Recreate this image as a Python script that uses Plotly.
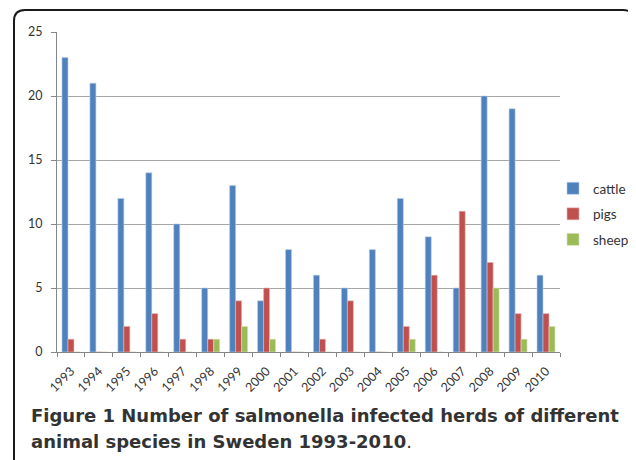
import plotly.graph_objects as go

years = [str(y) for y in range(1993, 2011)]
cattle = [23, 21, 12, 14, 10, 5, 13, 4, 8, 6, 5, 8, 12, 9, 5, 20, 19, 6]
pigs = [1, 0, 2, 3, 1, 1, 4, 5, 0, 1, 4, 0, 2, 6, 11, 7, 3, 3]
sheep = [0, 0, 0, 0, 0, 1, 2, 1, 0, 0, 0, 0, 1, 0, 0, 5, 1, 2]
series_names = ["cattle", "pigs", "sheep"]
colors = ["#4F81BD", "#C0504D", "#9BBB59"]
edge_colors = ["#B9CDE5", "#E6B9B8", "#D7E4BD"]
caption_1 = "<b>Figure 1 Number of salmonella infected herds of different</b>"
caption_2 = "<b>animal species in Sweden 1993-2010</b>."

# page body has an 8px margin; size the figure to fill the 636x460 window
OFF = 8
W, H = 636 - OFF, 460 - OFF
L, R, T, B = 57 - OFF, 76, 32 - OFF, 108
PW, PH = W - L - R, H - T - B


def px(x):  # window pixel -> paper
    return (x - OFF - L) / PW


def py(y):  # window pixel -> paper
    return (H - B - (y - OFF)) / PH


fig = go.Figure()
for i, (name, vals) in enumerate(zip(series_names, [cattle, pigs, sheep])):
    fig.add_trace(go.Bar(
        x=years, y=vals, name=name, legendgroup=name,
        marker=dict(color=colors[i], line=dict(color=edge_colors[i], width=0.6)),
    ))

font = "Lato, 'Open Sans', sans-serif"
fig.update_layout(
    width=W, height=H,
    margin=dict(l=L, r=R, t=T, b=B, autoexpand=False),
    paper_bgcolor="white", plot_bgcolor="white",
    barmode="group", bargap=0.356, bargroupgap=0,
    font=dict(family=font, size=12, color="#333333"),
    showlegend=True,
    legend=dict(
        x=px(553), y=py(214), xanchor="left", yanchor="middle",
        font=dict(size=13.5, color="#333333"), tracegroupgap=5,
        itemwidth=30, bgcolor="rgba(0,0,0,0)",
    ),
    xaxis=dict(
        type="category", tickangle=-45, tickson="boundaries",
        ticks="outside", ticklen=4, tickcolor="#868686",
        showline=True, linecolor="#868686", linewidth=1,
        showgrid=False, tickfont=dict(size=12.5, color="#333333"),
        ticklabelstandoff=6, automargin=False,
    ),
    yaxis=dict(
        range=[0, 25], dtick=5, tickmode="linear",
        ticks="outside", ticklen=5, tickcolor="#868686",
        showline=True, linecolor="#868686", linewidth=1,
        showgrid=True, gridcolor="#A6A6A6", gridwidth=1,
        zeroline=False, tickfont=dict(size=12.5, color="#333333"),
        ticklabelstandoff=6, automargin=False,
    ),
)

# rounded frame around the figure
x0, x1, y0, y1, r = 14, 634, 10, 475, 11
path = (
    f"M {px(x0)},{py(y1)} L {px(x0)},{py(y0 + r)} "
    f"Q {px(x0)},{py(y0)} {px(x0 + r)},{py(y0)} "
    f"L {px(x1 - r)},{py(y0)} "
    f"Q {px(x1)},{py(y0)} {px(x1)},{py(y0 + r)} "
    f"L {px(x1)},{py(y1)}"
)
fig.add_shape(type="path", path=path, xref="paper", yref="paper",
              line=dict(color="#1a1a1a", width=2), layer="above")

cap_font = dict(family="'DejaVu Sans', sans-serif", size=18, color="#333333")
fig.add_annotation(text=caption_1, xref="paper", yref="paper",
                   x=px(29), y=py(428), xanchor="left", yanchor="bottom",
                   showarrow=False, font=cap_font)
fig.add_annotation(text=caption_2, xref="paper", yref="paper",
                   x=px(29), y=py(454), xanchor="left", yanchor="bottom",
                   showarrow=False, font=cap_font)

fig.write_html("out.html")
